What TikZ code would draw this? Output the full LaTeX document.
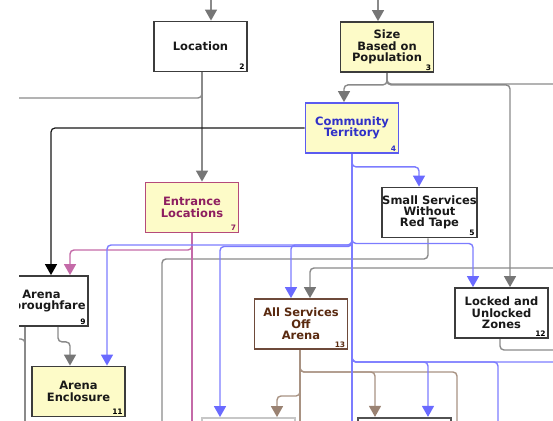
\documentclass[tikz,border=0pt]{standalone}
\usepackage{fontspec}
\setmainfont{DejaVu Sans}
\usetikzlibrary{arrows.meta,backgrounds}
\definecolor{cg}{HTML}{8A8A8A}
\definecolor{cga}{HTML}{767676}
\definecolor{cb}{HTML}{7C7CFF}
\definecolor{cba}{HTML}{6A6AFF}
\definecolor{cp}{HTML}{C46AA8}
\definecolor{cn}{HTML}{A89282}
\definecolor{cna}{HTML}{9A8272}
\definecolor{fy}{HTML}{FDFBC8}
\definecolor{bd}{HTML}{3C3C3C}
\definecolor{tblue}{HTML}{3030C8}
\definecolor{bblue}{HTML}{5B5BF0}
\definecolor{tmag}{HTML}{8E1E60}
\definecolor{bmag}{HTML}{B54A7A}
\definecolor{tbrn}{HTML}{5A2A10}
\definecolor{bbrn}{HTML}{6E4A3A}
\newcommand\boxfont{\fontsize{11.5}{11.3}\selectfont\bfseries}
\newcommand\numfont{\fontsize{7.5}{8}\selectfont\bfseries}
\begin{document}
\begin{tikzpicture}[x=1pt,y=-1pt,
  box/.style={draw=bd, line width=1.8pt, fill=white, minimum width=93pt, minimum height=50pt,
    inner sep=0pt, align=center, font=\boxfont, text=black!90},
  ybox/.style={box, fill=fy},
  numl/.style={anchor=south east, inner sep=0pt, xshift=-3pt, yshift=2.5pt, font=\numfont},
  conn/.style={line width=1.4pt, rounded corners=4pt},
  gl/.style={conn, draw=cg},
  gla/.style={gl, -{Triangle[width=12pt,length=11pt,color=cga]}},
  blu/.style={conn, draw=cb},
  blua/.style={blu, -{Triangle[width=12pt,length=11pt,color=cba]}},
  pk/.style={conn, draw=cp},
  pka/.style={pk, -{Triangle[width=12pt,length=11pt,color=cp]}},
  bn/.style={conn, draw=cn},
  bna/.style={bn, -{Triangle[width=12pt,length=11pt,color=cna]}},
  bla/.style={conn, line width=1.2pt, draw=black!90, -{Triangle[width=12pt,length=11pt,color=black]}}
]
\useasboundingbox (0,0) rectangle (553,420);
\begin{scope}
\clip (19,0) rectangle (553,420);
% nodes
\node[box, label={[numl]south east:2}] (loc) at (200.5,46.5) {Location};
\node[ybox, label={[numl]south east:3}] (size) at (387,47) {Size\\Based on\\Population};
\node[ybox, draw=bblue, text=tblue, label={[numl,text=tblue]south east:4}] (comm) at (352,128) {Community\\Territory};
\node[ybox, draw=bmag, text=tmag, label={[numl,text=tmag]south east:7}] (entr) at (192,207.5) {Entrance\\Locations};
\node[box, label={[numl]south east:5}] (small) at (429.5,212.5) {Small Services\\Without\\Red Tape};
\node[box, label={[numl]south east:9}] (thor) at (41.5,301) {Arena\\Thoroughfare};
\node[ybox, label={[numl]south east:11}] (encl) at (78.5,391.5) {Arena\\Enclosure};
\node[box, draw=bbrn, text=tbrn, label={[numl,text=tbrn]south east:13}] (allsvc) at (301,324) {All Services\\Off\\Arena};
\node[box, label={[numl]south east:12}] (locked) at (501.5,313) {Locked and\\Unlocked\\Zones};
\node[box, draw=black!22] (bot1) at (248.5,443) {};
\node[box, draw=black!68, line width=2.2pt] (bot2) at (404.5,443) {};
\end{scope}

\begin{scope}[on background layer]
\clip (19,0) rectangle (553,420);
% off-picture points
\coordinate (tinA) at (211,-15);
\coordinate (tinB) at (378,-15);
\coordinate (outL1) at (-5,98);
\coordinate (outL2) at (-5,339);
\coordinate (outR1) at (570,84);
\coordinate (outR2) at (570,268);
\coordinate (outR3) at (570,350);
\coordinate (outR4) at (570,362);
\coordinate (outB1) at (352,440);
\coordinate (outB2) at (498,440);
\coordinate (outB3) at (162,440);
\coordinate (outB4) at (25,440);
\coordinate (outB5) at (300,440);
\coordinate (outB6) at (457,440);
\coordinate (outB7) at (192,440);
% junctions
\coordinate (jB) at (352,245);
\coordinate (jB2) at (352,246.5);
\coordinate (jB3) at (352,243.5);
\coordinate (jC) at (352,362);
\coordinate (jP) at (192,250);
\coordinate (jS) at (162,259);
\coordinate (jA1) at (300,372);
\coordinate (jA2) at (300,396);

\draw[gl] ([xshift=-1.5pt]small.south) |- (jS) -- (outB3);
\draw[gla] (outR2) -| ([xshift=9pt]allsvc.north);
\draw[gl] ([xshift=-1.5pt]locked.south) |- (outR3);
\draw[gl] (size.south) |- (outR1);
\draw[gla] (size.south) |- ++(0,12) -| ([xshift=8.5pt]locked.north);
\draw[gla] (size.south) |- ++(0,12) -| ([xshift=-8pt]comm.north);
\draw[gl] ([xshift=1.5pt]loc.south) |- (outL1);
\draw[gla] ([xshift=1.5pt]loc.south) -- ([xshift=10pt]entr.north);
\draw[gla] (tinA) -- ([xshift=10.5pt]loc.north);
\draw[gla] (tinB) -- ([xshift=-9pt]size.north);
\draw[gla] ([xshift=16.5pt]thor.south) -- ++(0,15) -| ([xshift=-8.5pt]encl.north);
\draw[gl] ([xshift=-16.5pt]thor.south) -- (outB4);
\draw[gl] (outL2) -| (outB4);

\draw[bn] ([xshift=-1pt]allsvc.south) -- (outB5);
\draw[bn] ([xshift=-1pt]allsvc.south) -- (jA1) -| (outB6);
\draw[bna] ([xshift=-1pt]allsvc.south) -- (jA1) -| ([xshift=-29.5pt]bot2.north);
\draw[bna] ([xshift=-1pt]allsvc.south) -- (jA2) -| ([xshift=28.5pt]bot1.north);

\draw[pk] (entr.south) -- (outB7);
\draw[pka] (entr.south) -- (jP) -| ([xshift=28.5pt]thor.north);

\draw[bla] (comm.west) -| ([xshift=9.5pt]thor.north);
\draw[blu] (comm.south) -- (outB1);
\draw[blua] (comm.south) |- ++(0,13) -| ([xshift=-10.5pt]small.north);
\draw[blua] (comm.south) -- (jB) -| ([xshift=28.5pt]encl.north);
\draw[blua] (comm.south) -- (jB2) -| ([xshift=-28.5pt]bot1.north);
\draw[blua] (comm.south) -- (jB) -| ([xshift=-10pt]allsvc.north);
\draw[blua] (comm.south) -- (jB3) -| ([xshift=-28.5pt]locked.north);
\draw[blua] (comm.south) -- (jC) -| ([xshift=23.5pt]bot2.north);
\draw[blu] (comm.south) -- (jC) -| (outB2);
\draw[blu] (comm.south) -- (jC) -- (outR4);
\end{scope}
\end{tikzpicture}
\end{document}
